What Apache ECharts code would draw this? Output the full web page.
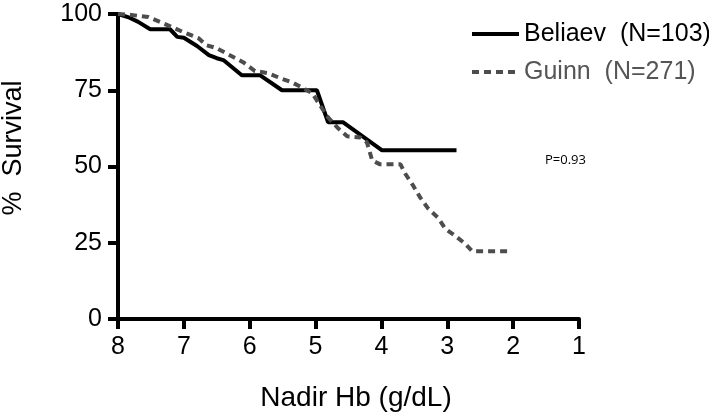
<!DOCTYPE html>
<html>
<head>
<meta charset="utf-8">
<script src="https://cdn.jsdelivr.net/npm/echarts@6/dist/echarts.min.js"></script>
<style>
  html, body { margin: 0; padding: 0; background: #fff; }
  #chart { width: 709px; height: 416px; }
</style>
</head>
<body>
<div id="chart"></div>
<script>
// Beliaev survival curve (Nadir Hb, % survival)
const beliaevHb = [8, 7.85, 7.7, 7.51, 7.21, 7.1, 7.0, 6.8, 6.62, 6.5, 6.4, 6.12, 5.84, 5.51, 4.98, 4.81, 4.58, 3.99, 2.86]
const beliaevSurv = [100, 99, 97.5, 95, 95, 92.5, 92.2, 89.5, 86.5, 85.5, 84.9, 79.9, 79.9, 75, 75, 64.5, 64.5, 55.3, 55.3]

// Guinn survival curve
const guinnHb = [8, 7.8, 7.54, 7.36, 7.18, 6.98, 6.78, 6.66, 6.5, 6.45, 6.25, 6.1, 5.92, 5.72, 5.54, 5.36, 5.19, 5.05, 4.93, 4.81, 4.67, 4.52, 4.32, 4.22, 4.14, 4.02, 3.71, 3.64, 3.52, 3.41, 3.29, 3.14, 3.03, 2.88, 2.73, 2.62, 2.04]
const guinnSurv = [100, 99.7, 99, 97.4, 95.7, 93.8, 92.1, 89.8, 88.8, 88.2, 85.9, 84.2, 81.3, 80.6, 79, 77.6, 75.7, 74, 70, 66.1, 62.8, 59.9, 59.5, 57.9, 52, 50.7, 50.7, 47.7, 43.8, 39.8, 36.2, 33.2, 29.6, 27.3, 24.7, 22.2, 22.2]

const seriesNames = ['Beliaev  (N=103)', 'Guinn  (N=271)']
const pValueText = 'P=0.93'

const FONT = 'Liberation Sans, Arial, sans-serif'
const GREY = '#4d4d4d'

const chart = echarts.init(document.getElementById('chart'))

const zip = (xs, ys) => xs.map((x, i) => [x, ys[i]])

chart.setOption({
    animation: false,
    grid: { left: 118, right: 130, top: 14, bottom: 97 },
    legend: {
        orient: 'vertical',
        left: 465,
        top: 15,
        itemWidth: 47,
        itemHeight: 14,
        itemGap: 10,
        // hide the symbol drawn on the line icon, keep the line itself
        itemStyle: { opacity: 0 },
        lineStyle: { width: 4 },
        textStyle: { fontFamily: FONT, fontSize: 25, color: '#000', lineHeight: 28 },
        data: [
            { name: seriesNames[0], textStyle: { color: '#000' } },
            { name: seriesNames[1], textStyle: { color: '#555' } }
        ]
    },
    xAxis: {
        type: 'value',
        min: 1,
        max: 8,
        interval: 1,
        inverse: true,
        axisLine: { lineStyle: { color: '#000', width: 4 } },
        axisTick: { length: 10, lineStyle: { color: '#000', width: 4 } },
        axisLabel: { fontFamily: FONT, fontSize: 25, color: '#000', margin: 16 },
        splitLine: { show: false }
    },
    yAxis: {
        type: 'value',
        min: 0,
        max: 100,
        interval: 25,
        axisLine: { show: true, lineStyle: { color: '#000', width: 4 } },
        axisTick: { show: true, length: 10, lineStyle: { color: '#000', width: 4 } },
        axisLabel: { fontFamily: FONT, fontSize: 25, color: '#000', margin: 16 },
        splitLine: { show: false }
    },
    graphic: [
        {
            type: 'text',
            x: 14,
            y: 148,
            rotation: Math.PI / 2,
            style: {
                text: '%  Survival',
                fontFamily: FONT,
                fontSize: 27,
                fill: '#000',
                align: 'center',
                verticalAlign: 'middle'
            }
        },
        {
            type: 'text',
            x: 356,
            y: 398,
            style: {
                text: 'Nadir Hb (g/dL)',
                fontFamily: FONT,
                fontSize: 28,
                fill: '#000',
                align: 'center',
                verticalAlign: 'middle'
            }
        },
        {
            type: 'text',
            x: 545,
            y: 160,
            style: {
                text: pValueText,
                fontFamily: 'Open Sans, sans-serif',
                fontSize: 13,
                fill: '#000',
                align: 'left',
                verticalAlign: 'middle'
            }
        }
    ],
    series: [
        {
            name: seriesNames[0],
            type: 'line',
            data: zip(beliaevHb, beliaevSurv),
            symbol: 'none',
            lineStyle: { color: '#000', width: 4 },
            itemStyle: { color: '#000' }
        },
        {
            name: seriesNames[1],
            type: 'line',
            data: zip(guinnHb, guinnSurv),
            symbol: 'none',
            lineStyle: { color: GREY, width: 4, type: [7, 5] },
            itemStyle: { color: GREY }
        }
    ]
})
</script>
</body>
</html>
